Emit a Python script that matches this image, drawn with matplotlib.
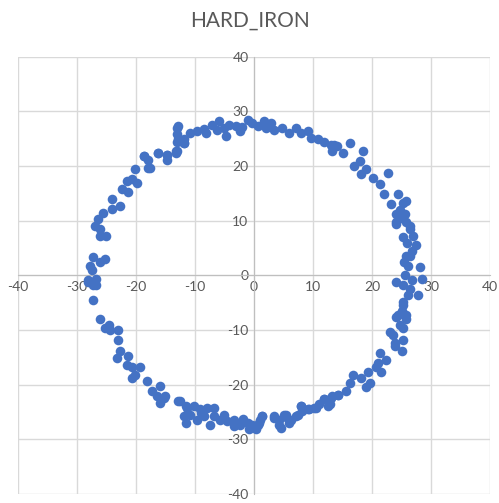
import numpy as np
import matplotlib
matplotlib.use('Agg')
import matplotlib.pyplot as plt

plt.rcParams['font.family'] = ['Lato', 'DejaVu Sans']

# points, going round the ring
x_vals = [
    -12.8, -13.1, -11.9, -14.8, -13.1, -10.8, -9.7, -8.2, -7.2, -6.0, -6.3, -4.8, -4.3, -3.1, -2.3,
    -1.1, -0.3, 0.6, 1.7, 2.8, 3.4, 4.8, 6.0, 7.1, 8.0, 9.1, 9.7, 10.8, 11.9, 13.1, 13.3, 14.1,
    13.6, 16.2, 15.0, 18.5, 17.9, 19.0, 18.2, 20.2, 22.7, 21.3, 22.1, 24.4, 23.3, 25.3, 24.1, 25.6,
    24.1, 26.4, 24.1, 25.8, 25.3, 27.0, 27.5, 26.4, 26.1, 28.1, 25.6, 28.4, 26.7, 25.3, 27.8, 26.1,
    25.3, 24.4, 25.8, 24.7, 23.0, 25.3, 23.9, 25.8, 26.4, 25.8,
    24.1, 25.3, 24.1, 25.8, 25.3, 23.9, 25.0, 21.3, 22.4, 20.7, 21.6, 19.3, 19.6, 18.2, 16.7, 16.2,
    15.6, 14.2, 13.1, 11.9, 12.5, 10.5, 9.4, 8.2, 8.0, 7.1, 6.0, 5.1, 4.3, 4.5, 3.4, 1.4, 0.9, -0.3,
    0.3,
    -12.5, -11.4, -10.2, -9.1, -8.0, -6.8, -11.9, -10.8, -11.6, -9.7, -8.5, -6.8, -5.7, -7.4, -4.5,
    -3.4, -3.4, -2.3, -1.1, -0.9, 0.6, 1.4, 3.4, 4.3, 5.4, 6.3, 8.0, 7.4, 9.1, 10.2, 11.9, 13.3,
    12.8, 14.2, -15.0,
    -28.1, -26.7, -27.3, -26.1, -25.3, -24.4, -23.0, -23.0, -22.7, -23.3, -21.3, -21.6, -20.7, -19.3,
    -20.2, -20.7, -18.2, -17.3, -15.9, -16.5, -15.3, -15.9, -12.8, -11.6,
    -13.1, -11.9, -13.3, -14.8, -16.2, -18.7, -17.9, -17.6, -20.2, -20.7, -19.9, -21.6, -22.4, -21.3,
    -24.1, -22.7, -24.1, -25.6, -26.4, -27.0, -26.1, -26.1, -25.0, -27.3, -25.3, -26.1, -27.5, -28.1,
    -26.7, -27.3,
    -13.1, -12.8, -11.9, -13.3, -16.2, -14.8, -17.9, -18.7,
    -5.0, 2.0, 25.0, 26.0, 25.5, 26.5, 25.0, -5.0, -1.8, 1.0, -9.0, 24.8, 26.8, 23.6, 21.0,
    -2.0, 5.5, 11.0, 17.0, -27.8, -24.5, 19.0, -8.5,
]
y_vals = [
    27.3, 25.8, 24.9, 22.1, 22.7, 26.1, 26.4, 26.1, 27.6, 28.2, 26.7, 25.5, 27.6, 27.3, 26.4,
    28.5, 27.9, 27.3, 28.2, 27.9, 26.7, 27.0, 26.1, 27.0, 26.1, 26.4, 25.2, 24.9, 24.5, 23.9, 22.7, 23.6,
    23.9, 24.3, 22.4, 22.7, 20.9, 19.4, 18.5, 17.9, 18.8, 16.7, 14.9, 14.9, 13.0, 13.3, 11.2, 11.2,
    9.4, 8.5, 9.7, 9.7, 7.0, 7.3, 5.5, 3.6, 1.8, 1.5, 0.0, -0.6, -0.9, -1.8, -3.6, -3.6,
    -5.5, -7.3, -7.9, -9.1, -10.3, -11.8, -12.4, 13.6, 9.1, 3.6,
    -1.2, -4.8, -7.6, -7.3, -9.7, -13.0, -13.9, -14.2, -15.5, -16.7, -17.6, -17.6, -19.7, -18.8, -18.2, -19.7,
    -21.2, -21.8, -22.4, -22.7, -23.9, -24.2, -24.5, -24.8, -23.9, -25.8, -27.0, -25.5, -26.4, -27.9, -26.1, -25.8, -27.0, -27.3,
    -28.2,
    -23.0, -24.2, -23.9, -24.5, -24.2, -24.2, -25.8, -25.5, -27.0, -26.4, -25.8, -25.8, -26.4, -27.3, -26.7,
    -26.4, -27.6, -27.3, -27.0, -28.2, -27.3, -25.8, -25.8, -27.3, -25.5, -26.4, -23.9, -25.5, -24.5, -24.2, -22.7, -22.1,
    -23.6, -21.8, -22.1,
    -1.2, -1.8, -4.5, -7.9, -9.7, -10.0, -10.0, -11.8, -13.9, -15.1, -14.8, -16.4, -16.7, -16.7,
    -18.2, -18.8, -19.4, -21.2, -20.3, -22.1, -22.4, -23.3, -23.0, -23.9,
    24.5, 24.3, 22.7, 22.1, 22.4, 21.8, 21.2, 19.7, 19.4, 17.6, 17.0, 17.3, 15.8, 15.2,
    13.9, 12.7, 12.1, 11.5, 10.3, 9.1, 8.5, 7.3, 7.3, 3.3, 3.0, 2.4, 0.9, -0.9,
    -0.6, -1.8,
    27.0, 24.9, 24.3, 22.4, 22.4, 21.2, 19.7, 21.8,
    27.0, 26.9, 10.5, 6.0, 2.5, -2.5, -6.5, -25.6, -26.2, -26.5, -25.2, 12.0, 4.5, -11.0, -16.0,
    27.2, -26.0, -23.5, 20.0, 1.8, -9.0, -20.5, 26.8,
]
ticks = [-40, -30, -20, -10, 0, 10, 20, 30, 40]

fig = plt.figure(figsize=(4.99, 5.03), dpi=100)
ax = fig.add_axes([0.036, 0.018, 0.946, 0.869])

ax.scatter(x_vals, y_vals, s=48, color='#4472C4', linewidths=0, zorder=3)

ax.set_xlim(-40, 40)
ax.set_ylim(-40, 40)
ax.set_xticks(ticks)
ax.set_yticks(ticks)
ax.set_xticklabels([str(t) for t in ticks])
ax.set_yticklabels([str(t) for t in ticks])
ax.grid(True, color='#D9D9D9', linewidth=1, zorder=0)
ax.set_axisbelow(True)

for s in ['top', 'right']:
    ax.spines[s].set_visible(False)
ax.spines['left'].set_position('zero')
ax.spines['bottom'].set_position('zero')
ax.spines['left'].set_color('#BFBFBF')
ax.spines['bottom'].set_color('#BFBFBF')
ax.tick_params(length=0, labelsize=10, labelcolor='#595959', pad=4)

fig.text(0.5, 0.958, 'HARD_IRON', ha='center', va='center', fontsize=15, color='#595959')

fig.savefig('out.png', dpi=100)
